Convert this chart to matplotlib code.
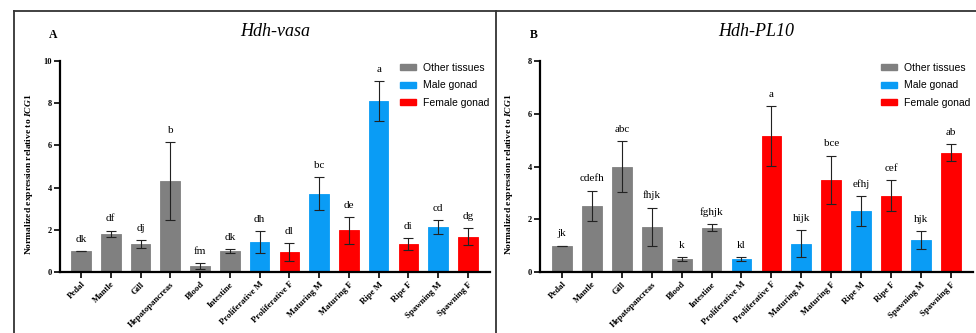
import numpy as np
import matplotlib.pyplot as plt
from matplotlib.patches import Patch
from matplotlib.lines import Line2D

# --- data -------------------------------------------------------------------
tissues = ["Pedal", "Mantle", "Gill", "Hepatopancreas", "Blood", "Intestine",
           "Proliferative M", "Proliferative F", "Maturing M", "Maturing F",
           "Ripe M", "Ripe F", "Spawning M", "Spawning F"]
groups = ["o", "o", "o", "o", "o", "o", "m", "f", "m", "f", "m", "f", "m", "f"]

vasa_mean = [1.0, 1.8, 1.32, 4.3, 0.28, 1.0, 1.42, 0.94, 3.72, 1.97, 8.1, 1.33, 2.12, 1.68]
vasa_err = [0.0, 0.16, 0.19, 1.84, 0.15, 0.09, 0.5, 0.42, 0.78, 0.62, 0.95, 0.28, 0.33, 0.39]
vasa_sig = ["dk", "df", "dj", "b", "fm", "dk", "dh", "dl", "bc", "de", "a", "di", "cd", "dg"]

pl10_mean = [1.0, 2.52, 4.0, 1.72, 0.49, 1.68, 0.49, 5.15, 1.07, 3.5, 2.31, 2.89, 1.21, 4.52]
pl10_err = [0.0, 0.57, 0.95, 0.72, 0.08, 0.13, 0.06, 1.13, 0.52, 0.91, 0.57, 0.59, 0.34, 0.33]
pl10_sig = ["jk", "cdefh", "abc", "fhjk", "k", "fghjk", "kl", "a", "hijk", "bce",
            "efhj", "cef", "hjk", "ab"]

colors = {"o": "#808080", "m": "#0A9CF5", "f": "#FF0000"}
legend_names = {"o": "Other tissues", "m": "Male gonad", "f": "Female gonad"}

plt.rcParams["font.family"] = "Liberation Serif"
plt.rcParams["mathtext.fontset"] = "custom"
plt.rcParams["mathtext.it"] = "Liberation Serif:italic:bold"
plt.rcParams["mathtext.rm"] = "Liberation Serif:bold"

W, H = 976, 333
fig = plt.figure(figsize=(W / 100, H / 100), dpi=100)


def px(x0, y0, x1, y1):
    # pixel box -> figure fraction rect
    return [x0 / W, 1 - y1 / H, (x1 - x0) / W, (y1 - y0) / H]


def panel(box, means, errs, sigs, ymax, title, letter, letter_x, leg_x, xleft, ylab_x):
    ax = fig.add_axes(px(*box))
    x = np.arange(len(tissues))
    cols = [colors[g] for g in groups]
    ax.bar(x, means, width=0.66, color=cols, edgecolor=cols, linewidth=0.6, zorder=2)
    ax.errorbar(x, means, yerr=errs, fmt="none", ecolor="#222222", elinewidth=0.8,
                capsize=3.5, capthick=0.8, zorder=3)
    for xi, m, e, s in zip(x, means, errs, sigs):
        ax.text(xi, m + e + ymax * 0.035, s, ha="center", va="bottom", fontsize=8)
    ax.set_xlim(xleft, 13.74)
    ax.set_ylim(0, ymax)
    ax.set_yticks(np.arange(0, ymax + 1, 2))
    ax.set_yticklabels([str(v) for v in range(0, ymax + 1, 2)], fontsize=6, fontweight="bold")
    ax.set_xticks(x)
    ax.set_xticklabels(tissues, rotation=45, ha="right", rotation_mode="anchor",
                       fontsize=6.3, fontweight="bold")
    for sp in ["top", "right"]:
        ax.spines[sp].set_visible(False)
    for sp in ["left", "bottom"]:
        ax.spines[sp].set_linewidth(1.6)
    ax.tick_params(axis="both", direction="out", length=4.5, width=1.2, pad=1.5)

    x0, y0, x1, y1 = box
    fig.text(ylab_x / W, 1 - 174 / H, r"Normalized expression relative to $\mathit{ICG1}$",
             rotation=90, ha="center", va="center", fontsize=6.8, fontweight="bold")
    fig.text((x0 + x1) / 2 / W, 1 - 32 / H, title, fontsize=13, style="italic",
             ha="center", va="center")
    fig.text(letter_x / W, 1 - 35 / H, letter, fontsize=8.5, fontweight="bold",
             ha="left", va="center")
    handles = [Patch(facecolor=colors[k], edgecolor=colors[k]) for k in ["o", "m", "f"]]
    fig.legend(handles, [legend_names[k] for k in ["o", "m", "f"]],
               loc="upper left", bbox_to_anchor=(leg_x / W, 1 - 63 / H),
               frameon=False, prop={"family": "Liberation Sans", "size": 7.5},
               handlelength=1.5, handleheight=0.55, handletextpad=0.75,
               labelspacing=0.72, borderaxespad=0, borderpad=0)
    return ax


panel((60, 61, 490, 272), vasa_mean, vasa_err, vasa_sig, 10, "Hdh-vasa", "A", 49,
      400, -0.705, 29)
panel((540, 61, 973, 272), pl10_mean, pl10_err, pl10_sig, 8, "Hdh-PL10", "B", 530,
      881, -0.735, 509)

# outer frame lines
frame_kw = dict(color="#333333", linewidth=1.3, transform=fig.transFigure)
fig.add_artist(Line2D([14 / W, 1], [1 - 11 / H, 1 - 11 / H], **frame_kw))
fig.add_artist(Line2D([14 / W, 14 / W], [0, 1 - 11 / H], **frame_kw))
fig.add_artist(Line2D([496 / W, 496 / W], [0, 1 - 11 / H], **frame_kw))

fig.savefig("out.png", dpi=100)
